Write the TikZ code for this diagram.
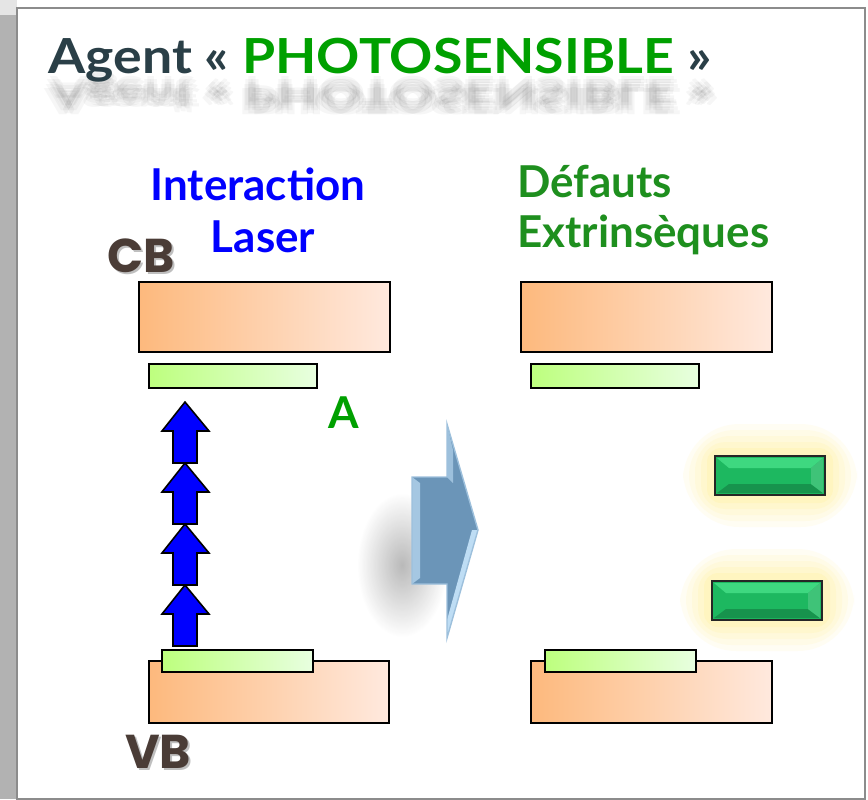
\documentclass[tikz,border=0pt]{standalone}
\usepackage{fontspec}
\setmainfont{Lato}
\newfontfamily\heavyfont{Poppins}
\usetikzlibrary{shadings}
\definecolor{titledark}{HTML}{2A3F47}
\definecolor{titlegreen}{HTML}{00A000}
\definecolor{defgreen}{HTML}{1E8F1E}
\definecolor{bandbrown}{HTML}{4A3C36}
\definecolor{orangeL}{HTML}{FDB97D}
\definecolor{orangeR}{HTML}{FFE9DE}
\definecolor{greenL}{HTML}{BDFF7E}
\definecolor{greenR}{HTML}{E8FFE0}
\definecolor{defectfill}{HTML}{1DB860}
\definecolor{defecthi}{HTML}{3ED880}
\definecolor{steel}{HTML}{6B95B8}
\definecolor{steellight}{HTML}{BEDDF4}
\definecolor{laserblue}{HTML}{0000FF}
\definecolor{glow}{HTML}{FFF3A0}
\tikzset{
  band/.style={draw=black, line width=1.2pt, left color=orangeL, right color=orangeR, shading angle=90},
  level/.style={draw=black, line width=1.2pt, left color=greenL, right color=greenR},
  photon/.style={draw=black, line width=0.9pt, fill=laserblue},
  defect/.style={draw=black!85, line width=1.3pt, fill=defectfill},
  lbl/.style={font=\bfseries\fontsize{25}{28}\selectfont, anchor=base west, inner sep=0pt},
  titlefont/.style={font=\bfseries\fontsize{27.5}{30}\selectfont, inner sep=0pt, anchor=base west, xscale=1.11},
  bandlbl/.style={font=\heavyfont\bfseries\fontsize{27}{30}\selectfont, text=bandbrown, anchor=base west, inner sep=0pt},
}
\begin{document}
\begin{tikzpicture}[x=0.02cm,y=-0.02cm]
\useasboundingbox (0,0) rectangle (868,799);
% page background
\fill[white] (0,0) rectangle (868,799);
\fill[black!30] (0,15) rectangle (17,799);
\fill[black!10] (0,0) rectangle (17,15);
% frame
\draw[fill=white, draw=black!45, line width=1.6pt] (17,8) rectangle (865,799);

% title reflection (faint, blurred)
\foreach \dx/\dy in {0/0,4/2,-4/2,0/5,3/-3,-3/-3,6/6,-6/6,0/-6} {
  \node[titlefont, yscale=-0.75, opacity=0.035, text=black] at (50+\dx,82+\dy) {Agent « PHOTOSENSIBLE »};
}
% title
\node (title) [titlefont, text=titledark]
  at (48,73) {Agent « \textcolor{titlegreen}{PHOTOSENSIBLE} »};

% column headers
\node (inter) [lbl, anchor=base, text=laserblue] at (258,200) {Interaction};
\node (laser) [lbl, anchor=base, text=laserblue] at (263,252) {Laser};
\node (defauts) [lbl, text=defgreen] at (517,197) {Défauts};
\node (extr) [lbl, text=defgreen] at (517,247) {Extrinsèques};

% band labels with slight shadow
\node[bandlbl, text=black!25] at (109,274) {CB};
\node (cb) [bandlbl] at (107,272) {CB};
\node[bandlbl, text=black!25] at (127,770) {VB};
\node (vb) [bandlbl] at (125,768) {VB};
\node (a) [lbl, text=titlegreen] at (328,428) {A};

% left diagram
\path[band] (139,282) rectangle (390,352);
\path[level] (149,364) rectangle (317,388);
\path[band] (149,661) rectangle (389,723);

% photon arrows
\foreach \t in {585,524,463,402} {
  \draw[photon] (185,\t) -- (209,\t+29) -- (197,\t+29) -- (197,\t+61) -- (173,\t+61)
     -- (173,\t+29) -- (162,\t+29) -- cycle;
}
\path[level] (162,650) rectangle (313,672);

% big arrow shadow
\shade[inner color=black!32, outer color=white, opacity=0.85] (402,565) ellipse (45 and 72);
% big arrow
\fill[steel] (412,477) -- (447,477) -- (447,424) -- (478,530) -- (447,638) -- (447,584) -- (412,584) -- cycle;
\fill[steellight] (478,530) -- (447,638) -- (447,620) -- (472,530) -- cycle;
\fill[steellight!70!steel] (412,477) -- (420,483) -- (420,578) -- (412,584) -- cycle;
\fill[steellight!60!steel] (447,424) -- (453,450) -- (453,483) -- (447,477) -- cycle;
\draw[steellight!60!steel, line width=0.8pt] (412,477) -- (447,477) -- (447,424) -- (478,530) -- (447,638) -- (447,584) -- (412,584) -- cycle;

% right diagram
\path[band] (521,282) rectangle (772,352);
\path[level] (531,364) rectangle (699,388);
\path[band] (531,661) rectangle (772,723);
\path[level] (545,650) rectangle (696,672);

% defect glow
\foreach \r/\op in {32/0.12,26/0.14,20/0.17,14/0.22,8/0.3} {
  \fill[glow, opacity=\op, rounded corners=\r] (715-\r,456-\r) rectangle (825+\r,495+\r);
  \fill[glow, opacity=\op, rounded corners=\r] (712-\r,581-\r) rectangle (822+\r,619+\r);
}
% defects
\foreach \x/\y in {715/456, 712/581} {
  \path[defect] (\x,\y) rectangle (\x+110,\y+39);
  \fill[defecthi] (\x+2,\y+2) -- (\x+108,\y+2) -- (\x+96,\y+12) -- (\x+14,\y+12) -- cycle;
  \fill[defectfill!80!black] (\x+2,\y+37) -- (\x+108,\y+37) -- (\x+96,\y+28) -- (\x+14,\y+28) -- cycle;
  \fill[defectfill!85!white] (\x+108,\y+2) -- (\x+108,\y+37) -- (\x+96,\y+28) -- (\x+96,\y+12) -- cycle;
  \draw[black!85, line width=1.3pt] (\x,\y) rectangle (\x+110,\y+39);
}
\end{tikzpicture}
\end{document}
